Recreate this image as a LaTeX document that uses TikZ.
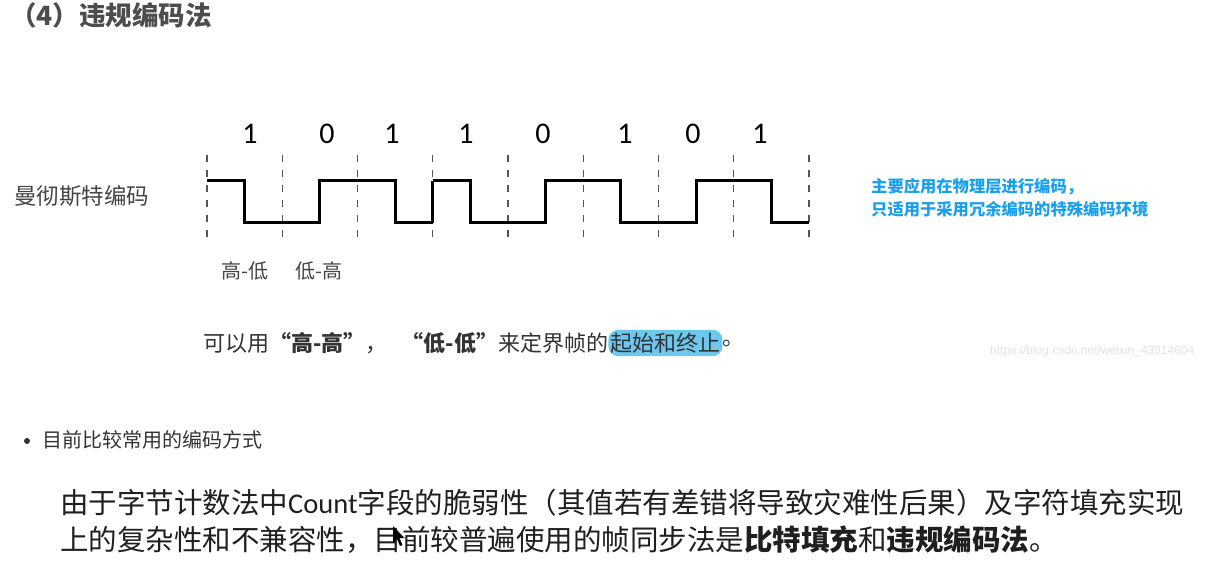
\documentclass[tikz,border=0pt]{standalone}
\usepackage{fontspec}
\setmainfont{Carlito}
\newfontfamily\cjk{Noto Sans CJK SC}
\newfontfamily\latin{Carlito}
\newfontfamily\urlfont{Liberation Sans}
\usetikzlibrary{positioning}

\definecolor{titlegray}{RGB}{77,77,77}
\definecolor{labelgray}{RGB}{68,68,68}
\definecolor{noteblue}{RGB}{27,160,232}
\definecolor{markblue}{RGB}{110,199,238}
\definecolor{textgray}{RGB}{51,51,51}
\definecolor{wavegray}{RGB}{85,85,85}
\definecolor{urlgray}{RGB}{225,225,225}

\tikzset{
    txt/.style={inner sep=0pt, anchor=west},
    grid line/.style={wavegray, line width=1.2pt, dash pattern=on 7pt off 8pt},
    wave/.style={black, line width=3pt},
    bitlabel/.style={inner sep=0pt, font=\latin\fontsize{30}{30}\selectfont},
}

\begin{document}
\begin{tikzpicture}[x=1pt, y=-1pt]
        \useasboundingbox (0,0) rectangle (1213,585);
        
        \node[txt, text=titlegray, font=\cjk\bfseries\fontsize{26.5}{26.5}\selectfont] (title) at (10,15) {（4）违规编码法};
        
        \node[txt, text=labelgray, font=\cjk\fontsize{22.5}{22.5}\selectfont] (manchester) at (14,196) {曼彻斯特编码};
        
        \foreach \i in {0,...,8} {
            \pgfmathsetmacro\xx{207+75.25*\i}
            \coordinate (t-\i) at (\xx,155);
            \coordinate (u-\i) at (\xx,242);
            \draw[grid line] (t-\i) -- (u-\i);
        }
        
        \foreach \i / \x / \b in {0/250/1, 1/327/0, 2/392/1, 3/466/1, 4/543/0, 5/625/1, 6/693/0, 7/760/1}
            \node[bitlabel] (bit-\i) at (\x,134) {\b};
        
        \foreach \i / \b in {0/1, 1/0, 2/1, 3/1, 4/0, 5/1, 6/0, 7/1} {
            \pgfmathsetmacro\xa{207+75.25*\i}
            \pgfmathsetmacro\xm{\xa+37.625}
            \pgfmathsetmacro\xb{\xa+75.25}
            \pgfmathsetmacro\ya{\b==1 ? 181 : 223}
            \pgfmathsetmacro\yb{\b==1 ? 223 : 181}
            \draw[wave] (\xa,\ya) -- (\xm,\ya) -- (\xm,\yb) -- (\xb,\yb);
        }
        \draw[wave] (t-3 |- 0,223) -- (t-3 |- 0,181);
        
        \node[txt, text=labelgray, font=\cjk\fontsize{20}{20}\selectfont] (high-low) at (221,271) {高-低};
        \node[txt, text=labelgray, font=\cjk\fontsize{20}{20}\selectfont] (low-high) at (295,271) {低-高};
        
        \node[txt, text=textgray, font=\cjk\fontsize{22}{22}\selectfont] (sent-a) at (203,343) {可以用{\bfseries “高-高”}，\hspace{14pt}{\bfseries “低-低”}来定界帧的};
        \node[txt, text=textgray, font=\cjk\fontsize{22}{22}\selectfont, fill=markblue, rounded corners=10pt, inner xsep=2pt, inner ysep=3pt, right=0pt of sent-a] (sent-b) {起始和终止};
        \node[txt, text=textgray, font=\cjk\fontsize{22}{22}\selectfont, right=0pt of sent-b] (sent-c) {。};
        
        \node[txt, text=noteblue, font=\cjk\bfseries\fontsize{16.3}{16.3}\selectfont] (note-1) at (871,187) {主要应用在物理层进行编码，};
        \node[txt, text=noteblue, font=\cjk\bfseries\fontsize{16.3}{16.3}\selectfont] (note-2) at (871,209) {只适用于采用冗余编码的特殊编码环境};
        
        \node[txt, text=urlgray, font=\urlfont\fontsize{12}{12}\selectfont] (url) at (990,351) {https://blog.csdn.net/weixin\_43914604};
        
        \node[circle, fill=textgray, inner sep=0pt, minimum size=6pt] (bullet) at (27,441) {};
        \node[txt, text=textgray, font=\cjk\fontsize{20}{20}\selectfont] (method) at (42,440) {目前比较常用的编码方式};
        
        \node[txt, text=black!88, font=\cjk\fontsize{28.5}{28.5}\selectfont] (para-1) at (60,503) {由于字节计数法中{\latin Count}字段的脆弱性（其值若有差错将导致灾难性后果）及字符填充实现};
        \node[txt, text=black!88, font=\cjk\fontsize{28.5}{28.5}\selectfont] (para-2) at (60,540) {上的复杂性和不兼容性，目前较普遍使用的帧同步法是{\bfseries 比特填充}和{\bfseries 违规编码法}。};
        
        \fill[black] (393,526) -- (393,543) -- (397,539) -- (400,546) -- (402.5,545) -- (399.5,538) -- (404.5,538) -- cycle;
        
    \end{tikzpicture}
\end{document}
